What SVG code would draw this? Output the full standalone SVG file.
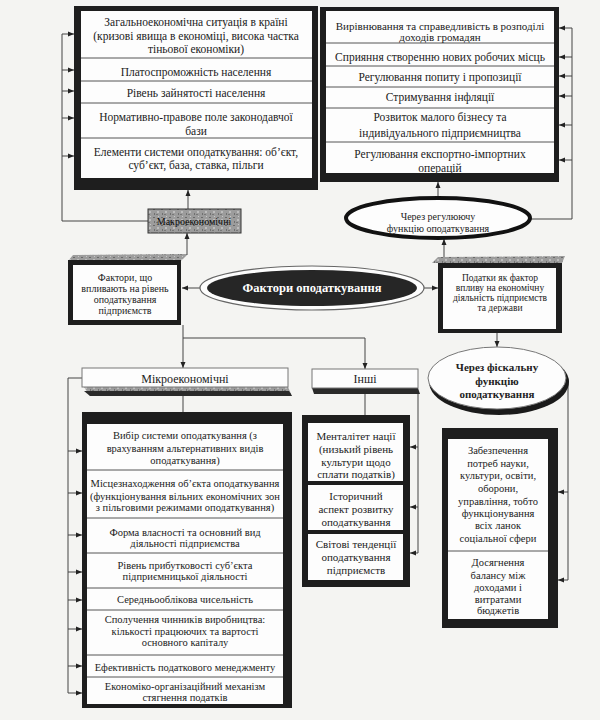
<svg xmlns="http://www.w3.org/2000/svg" width="600" height="720" viewBox="0 0 600 720">
<defs>
<style>
.t{font-family:"Liberation Serif","DejaVu Serif",serif;fill:#222;text-anchor:middle}
.f12{font-size:12px}.f115{font-size:11.5px}.f11{font-size:11px}.f105{font-size:10.5px}.f10{font-size:10px}.f95{font-size:9.5px}
.b{font-weight:bold}
.dk{fill:#1e1e1e}
.wh{fill:#fdfdfd}
.dv{stroke:#555;stroke-width:1}
.ln{stroke:#444;stroke-width:1;fill:none}
.ar{stroke:#444;stroke-width:1;fill:none;marker-end:url(#ah)}
</style>
<marker id="ah" viewBox="0 0 6 6" refX="6" refY="3" markerWidth="6" markerHeight="6" markerUnits="userSpaceOnUse" orient="auto">
<path d="M0,0.5 L6,3 L0,5.5 z" fill="#222"/>
</marker>
<pattern id="tex" width="8" height="8" patternUnits="userSpaceOnUse">
<rect width="8" height="8" fill="#9c9c9c"/>
<rect x="1" y="1" width="2" height="1" fill="#6a6a6a"/>
<rect x="5" y="3" width="2" height="2" fill="#bdbdbd"/>
<rect x="2" y="5" width="1" height="2" fill="#707070"/>
<rect x="6" y="0" width="1" height="1" fill="#c8c8c8"/>
<rect x="4" y="6" width="2" height="1" fill="#777"/>
</pattern>
</defs>
<rect width="600" height="720" fill="#f4f4f2"/>

<g id="connectors">
<path class="ln" d="M148,221 H62 V34"/>
<path class="ar" d="M62,34 H74"/>
<path class="ar" d="M62,70 H74"/>
<path class="ar" d="M62,91 H74"/>
<path class="ar" d="M62,118 H74"/>
<path class="ar" d="M62,156 H74"/>
<path class="ar" d="M188,209 V190"/>
<path class="ar" d="M187,255 V233"/>
<path class="ar" d="M200,288 H182"/>
<path class="ar" d="M424,288 H438"/>
<path class="ar" d="M444,257 V239"/>
<path class="ar" d="M438,197 V182"/>
<path class="ln" d="M530,219 H572 V28"/>
<path class="ar" d="M572,28 H559"/>
<path class="ar" d="M572,57 H559"/>
<path class="ar" d="M572,76 H559"/>
<path class="ar" d="M572,96 H559"/>
<path class="ar" d="M572,125 H559"/>
<path class="ar" d="M572,160 H559"/>
<path class="ar" d="M497,333 V347"/>
<path class="ar" d="M183,325 V368"/>
<path class="ar" d="M183,338 H365 V369"/>
<path class="ln" d="M183,396 V412"/>
<path class="ln" d="M365,394 V415"/>
<path class="ln" d="M82,378 H68 V693"/>
<path class="ar" d="M68,451 H82"/>
<path class="ar" d="M68,493 H82"/>
<path class="ar" d="M68,535 H82"/>
<path class="ar" d="M68,572 H82"/>
<path class="ar" d="M68,600 H82"/>
<path class="ar" d="M68,629 H82"/>
<path class="ar" d="M68,666 H82"/>
<path class="ar" d="M68,693 H82"/>
<path class="ln" d="M418,393 V553"/>
<path class="ar" d="M418,447 H410"/>
<path class="ar" d="M418,507 H410"/>
<path class="ar" d="M418,553 H410"/>
<path class="ln" d="M566,380 H568 V580"/>
<path class="ar" d="M568,492 H558"/>
<path class="ar" d="M568,580 H558"/>
</g>

<g id="macro-list">
<rect class="dk" x="74" y="6" width="244" height="184"/>
<rect class="wh" x="81" y="11" width="231" height="167"/>
<line class="dv" x1="81" y1="58" x2="312" y2="58"/>
<line class="dv" x1="81" y1="81" x2="312" y2="81"/>
<line class="dv" x1="81" y1="103" x2="312" y2="103"/>
<line class="dv" x1="81" y1="138" x2="312" y2="138"/>
<text class="t f115" x="196" y="26">Загальноекономічна ситуація в країні</text>
<text class="t f115" x="196" y="40">(кризові явища в економіці, висока частка</text>
<text class="t f115" x="196" y="53">тіньової економіки)</text>
<text class="t f115" x="196" y="76">Платоспроможність населення</text>
<text class="t f115" x="196" y="97">Рівень зайнятості населення</text>
<text class="t f115" x="196" y="121">Нормативно-правове поле законодавчої</text>
<text class="t f115" x="196" y="135">бази</text>
<text class="t f115" x="196" y="156">Елементи системи оподаткування: об’єкт,</text>
<text class="t f115" x="196" y="169">суб’єкт, база, ставка, пільги</text>
</g>

<g id="regulating-list">
<rect class="dk" x="320" y="7" width="239" height="175"/>
<rect class="wh" x="326" y="11" width="228" height="162"/>
<line class="dv" x1="326" y1="43" x2="554" y2="43"/>
<line class="dv" x1="326" y1="66" x2="554" y2="66"/>
<line class="dv" x1="326" y1="87" x2="554" y2="87"/>
<line class="dv" x1="326" y1="108" x2="554" y2="108"/>
<line class="dv" x1="326" y1="142" x2="554" y2="142"/>
<text class="t f11" x="440" y="30">Вирівнювання та справедливість в розподілі</text>
<text class="t f11" x="440" y="41">доходів громадян</text>
<text class="t f115" x="440" y="61">Сприяння створенню нових робочих місць</text>
<text class="t f115" x="440" y="81">Регулювання попиту і пропозиції</text>
<text class="t f115" x="440" y="101">Стримування інфляції</text>
<text class="t f115" x="440" y="121">Розвиток малого бізнесу та</text>
<text class="t f115" x="440" y="137">індивідуального підприємництва</text>
<text class="t f115" x="440" y="158">Регулювання експортно-імпортних</text>
<text class="t f115" x="440" y="172">операцій</text>
</g>

<g id="macro-label">
<rect x="148" y="209" width="93" height="24" fill="url(#tex)" stroke="#333" stroke-width="1"/>
<text class="t f10" x="194" y="225" style="fill:#0a0a0a">Макроекономічні</text>
</g>

<g id="regulating-ellipse">
<ellipse cx="438" cy="218" rx="92" ry="20" fill="#fdfdfd" stroke="#111" stroke-width="4"/>
<text class="t f10" x="438" y="220">Через регулюючу</text>
<text class="t f10" x="438" y="232">функцію оподаткування</text>
</g>

<g id="factors-box">
<polygon points="68,261 73,255 188,254 181,261" fill="url(#tex)"/>
<rect class="dk" x="68" y="260" width="113" height="65"/>
<rect class="wh" x="73" y="265" width="104" height="55"/>
<text class="t f10" x="125" y="281">Фактори, що</text>
<text class="t f10" x="125" y="292">впливають на рівень</text>
<text class="t f10" x="125" y="303">оподаткування</text>
<text class="t f10" x="125" y="314">підприємств</text>
</g>

<g id="central">
<ellipse cx="312" cy="288" rx="112" ry="22" fill="#fdfdfd" stroke="#666" stroke-width="1.2"/>
<ellipse cx="312" cy="288" rx="105" ry="18" fill="#262626"/>
<text class="t b" x="312" y="292" style="fill:#fff;font-size:12.5px">Фактори оподаткування</text>
</g>

<g id="taxes-box">
<polygon points="432,263 438,257 565,256 562,263" fill="url(#tex)"/>
<rect class="dk" x="438" y="263" width="124" height="70"/>
<rect class="wh" x="443" y="268" width="113" height="61"/>
<text class="t f95" x="500" y="281">Податки як фактор</text>
<text class="t f95" x="500" y="291">впливу на економічну</text>
<text class="t f95" x="500" y="301">діяльність підприємств</text>
<text class="t f95" x="500" y="311">та держави</text>
</g>

<g id="fiscal-ellipse">
<ellipse cx="499" cy="382" rx="70" ry="33" fill="#1a1a1a"/>
<ellipse cx="497" cy="378" rx="69" ry="31" fill="#fdfdfd" stroke="#777" stroke-width="1"/>
<text class="t f11 b" x="497" y="371">Через фіскальну</text>
<text class="t f11 b" x="497" y="385">функцію</text>
<text class="t f11 b" x="497" y="398">оподаткування</text>
</g>

<g id="micro-label">
<polygon points="84,387 288,387 292,396 90,396" fill="url(#tex)"/>
<polygon points="84,391 289,391 292,396 90,396" fill="#2a2a2a"/>
<rect x="82" y="368" width="206" height="19" fill="#fdfdfd" stroke="#777" stroke-width="1"/>
<text class="t f12" x="185" y="383">Мікроекономічні</text>
</g>

<g id="other-label">
<polygon points="312,388 418,388 420,394 314,394" fill="#2a2a2a"/>
<rect x="312" y="369" width="106" height="19" fill="#fdfdfd" stroke="#777" stroke-width="1"/>
<text class="t f12" x="365" y="383">Інші</text>
</g>

<g id="micro-list">
<rect class="dk" x="82" y="412" width="210" height="296"/>
<rect class="wh" x="87" y="424" width="196" height="280"/>
<line class="dv" x1="87" y1="470" x2="283" y2="470"/>
<line class="dv" x1="87" y1="518" x2="283" y2="518"/>
<line class="dv" x1="87" y1="553" x2="283" y2="553"/>
<line class="dv" x1="87" y1="588" x2="283" y2="588"/>
<line class="dv" x1="87" y1="610" x2="283" y2="610"/>
<line class="dv" x1="87" y1="655" x2="283" y2="655"/>
<line class="dv" x1="87" y1="677" x2="283" y2="677"/>
<text class="t f105" x="185" y="438.5">Вибір системи оподаткування (з</text>
<text class="t f105" x="185" y="451.5">врахуванням альтернативних видів</text>
<text class="t f105" x="185" y="463.5">оподаткування)</text>
<text class="t f105" x="185" y="486.5">Місцезнаходження об’єкта оподаткування</text>
<text class="t f105" x="185" y="499.5">(функціонування вільних економічних зон</text>
<text class="t f105" x="185" y="510.5">з пільговими режимами оподаткування)</text>
<text class="t f105" x="185" y="535.5">Форма власності та основний вид</text>
<text class="t f105" x="185" y="546.5">діяльності підприємства</text>
<text class="t f105" x="185" y="568.5">Рівень прибутковості суб’єкта</text>
<text class="t f105" x="185" y="579.5">підприємницької діяльності</text>
<text class="t f105" x="185" y="602.5">Середньооблікова чисельність</text>
<text class="t f105" x="185" y="622.5">Сполучення чинників виробництва:</text>
<text class="t f105" x="185" y="634.5">кількості працюючих та вартості</text>
<text class="t f105" x="185" y="645.5">основного капіталу</text>
<text class="t f105" x="185" y="670.5">Ефективність податкового менеджменту</text>
<text class="t f105" x="185" y="690">Економіко-організаційний механізм</text>
<text class="t f105" x="185" y="701">стягнення податків</text>
</g>

<g id="other-list">
<rect class="dk" x="302" y="415" width="108" height="172"/>
<rect class="wh" x="308" y="423" width="95" height="157"/>
<rect class="dk" x="308" y="481" width="95" height="4"/>
<rect class="dk" x="308" y="530" width="95" height="4"/>
<text class="t f11" x="356" y="440">Менталітет нації</text>
<text class="t f11" x="356" y="453">(низький рівень</text>
<text class="t f11" x="356" y="466">культури щодо</text>
<text class="t f11" x="356" y="478">сплати податків)</text>
<text class="t f11" x="356" y="500">Історичний</text>
<text class="t f11" x="356" y="513">аспект розвитку</text>
<text class="t f11" x="356" y="526">оподаткування</text>
<text class="t f11" x="356" y="548">Світові тенденції</text>
<text class="t f11" x="356" y="561">оподаткування</text>
<text class="t f11" x="356" y="574">підприємств</text>
</g>

<g id="fiscal-list">
<rect class="dk" x="442" y="428" width="116" height="200"/>
<rect class="wh" x="448" y="439" width="100" height="180"/>
<line class="dv" x1="448" y1="551" x2="548" y2="551"/>
<text class="t f105" x="498" y="453.5">Забезпечення</text>
<text class="t f105" x="498" y="466.5">потреб науки,</text>
<text class="t f105" x="498" y="479">культури, освіти,</text>
<text class="t f105" x="498" y="491.5">оборони,</text>
<text class="t f105" x="498" y="504.5">управління, тобто</text>
<text class="t f105" x="498" y="516.5">функціонування</text>
<text class="t f105" x="498" y="529">всіх ланок</text>
<text class="t f105" x="498" y="541.5">соціальної сфери</text>
<text class="t f105" x="498" y="566">Досягнення</text>
<text class="t f105" x="498" y="578.5">балансу між</text>
<text class="t f105" x="498" y="590.5">доходами і</text>
<text class="t f105" x="498" y="602.5">витратами</text>
<text class="t f105" x="498" y="614">бюджетів</text>
</g>
</svg>
